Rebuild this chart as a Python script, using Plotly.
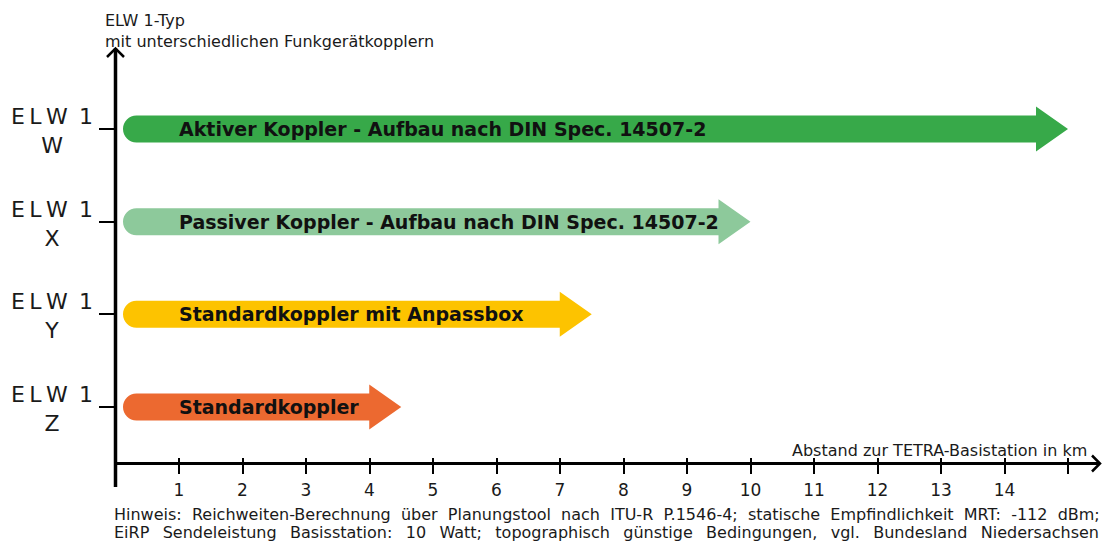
import plotly.graph_objects as go

# ---- data ----
row_codes = ["W", "X", "Y", "Z"]
coupler_labels = [
    "Aktiver Koppler - Aufbau nach DIN Spec. 14507-2",
    "Passiver Koppler - Aufbau nach DIN Spec. 14507-2",
    "Standardkoppler mit Anpassbox",
    "Standardkoppler",
]
range_km = [15, 10, 7.5, 4.5]
colors = ["#37A949", "#8DC99B", "#FDC300", "#EC6930"]
x_ticks = list(range(1, 16))
x_ticktext = [str(v) for v in range(1, 15)] + [""]

FONT = "DejaVu Sans, Liberation Sans, Arial"
TXT = "#1a1a1a"

W, H = 1105, 543
PL, PR, PT, PB = 118, 1100, 60, 457  # plot area in px
X0_PX, X_UNIT = 115.5, 63.5
Y_TOP_ROW_PX, Y_UNIT = 129, 92.67
n = len(row_codes)
rows = [n - 1 - i for i in range(n)]  # W on top

xr = [(PL - X0_PX) / X_UNIT, (PR - X0_PX) / X_UNIT]
yr = [(n - 1) - (PB - Y_TOP_ROW_PX) / Y_UNIT, (n - 1) + (Y_TOP_ROW_PX - PT) / Y_UNIT]


def px_x(p):
    return (p - PL) / (PR - PL)


def px_y(p):
    return (PB - p) / (PB - PT)


fig = go.Figure()
fig.add_trace(go.Scatter(x=[None], y=[None], showlegend=False))

shapes = []
annotations = []

# arrows
bar_h = 13.5 / Y_UNIT
head_h = 22.5 / Y_UNIT
head_len = 32 / X_UNIT
start_x = (123 - X0_PX) / X_UNIT
r = 13.5 / X_UNIT
k = 0.5523
for yc, end, col, lab in zip(rows, range_km, colors, coupler_labels):
    xb = end - head_len
    xs = start_x
    path = (
        f"M {xs + r},{yc + bar_h} L {xb},{yc + bar_h} L {xb},{yc + head_h} "
        f"L {end},{yc} L {xb},{yc - head_h} L {xb},{yc - bar_h} L {xs + r},{yc - bar_h} "
        f"C {xs + r - k * r},{yc - bar_h} {xs},{yc - k * bar_h} {xs},{yc} "
        f"C {xs},{yc + k * bar_h} {xs + r - k * r},{yc + bar_h} {xs + r},{yc + bar_h} Z"
    )
    shapes.append(dict(type="path", path=path, xref="x", yref="y",
                       fillcolor=col, line=dict(width=0), layer="below"))
    annotations.append(dict(x=1, y=yc, xref="x", yref="y", text=lab, showarrow=False,
                            xanchor="left", yanchor="middle", xshift=-2,
                            font=dict(family=FONT, size=19, color="#111111", weight="bold")))

# row labels
for yc, code in zip(rows, row_codes):
    annotations.append(dict(x=px_x(52), y=yc, xref="paper", yref="y",
                            text=f"E\u2009L\u2009W\u00a0\u20091<br>{code}", showarrow=False,
                            xanchor="center", yanchor="middle", align="center", yshift=-2,
                            font=dict(family=FONT, size=22, color=TXT)))

# axis lines
shapes.append(dict(type="line", xref="paper", yref="paper", x0=px_x(115.5), x1=px_x(115.5),
                   y0=px_y(487), y1=px_y(48.5), line=dict(color="black", width=3.5)))
shapes.append(dict(type="line", xref="paper", yref="paper", x0=px_x(115.5), x1=px_x(1100),
                   y0=px_y(463.5), y1=px_y(463.5), line=dict(color="black", width=3.2)))
# arrow chevrons
shapes.append(dict(type="path", xref="paper", yref="paper",
                   path=f"M {px_x(107)},{px_y(57)} L {px_x(115.5)},{px_y(48.5)} L {px_x(124)},{px_y(57)}",
                   line=dict(color="black", width=2.5)))
shapes.append(dict(type="path", xref="paper", yref="paper",
                   path=f"M {px_x(1092)},{px_y(455.5)} L {px_x(1100)},{px_y(463.5)} L {px_x(1092)},{px_y(471.5)}",
                   line=dict(color="black", width=2.5)))

# titles
annotations.append(dict(x=px_x(103), y=px_y(9), xref="paper", yref="paper",
                        text="ELW 1-Typ<br>mit unterschiedlichen Funkgerätkopplern",
                        showarrow=False, xanchor="left", yanchor="top", align="left",
                        font=dict(family=FONT, size=16, color=TXT)))
annotations.append(dict(x=px_x(1089), y=px_y(450), xref="paper", yref="paper",
                        text="Abstand zur TETRA-Basistation in km",
                        showarrow=False, xanchor="right", yanchor="middle",
                        font=dict(family=FONT, size=16, color=TXT)))

note1_words = ["Hinweis:", "Reichweiten-Berechnung", "über", "Planungstool", "nach", "ITU-R",
               "P.1546-4;", "statische", "Empfindlichkeit", "MRT:", "-112", "dBm;"]
note2_words = ["EiRP", "Sendeleistung", "Basisstation:", "10", "Watt;", "topographisch", "günstige",
               "Bedingungen,", "vgl.", "Bundesland", "Niedersachsen"]
note1 = " \u00a0".join(note1_words)
note2 = "\u00a0\u00a0\u2009".join(note2_words)
annotations.append(dict(x=px_x(112), y=px_y(514), xref="paper", yref="paper", text=note1,
                        showarrow=False, xanchor="left", yanchor="middle",
                        font=dict(family=FONT, size=16, color=TXT)))
annotations.append(dict(x=px_x(112), y=px_y(532), xref="paper", yref="paper", text=note2,
                        showarrow=False, xanchor="left", yanchor="middle",
                        font=dict(family=FONT, size=16, color=TXT)))

fig.update_layout(
    width=W, height=H,
    margin=dict(l=PL, r=W - PR, t=PT, b=H - PB, pad=0),
    plot_bgcolor="white", paper_bgcolor="white",
    showlegend=False,
    shapes=shapes, annotations=annotations,
    xaxis=dict(range=xr, tickvals=x_ticks, ticktext=x_ticktext, ticks="outside", ticklen=16,
               tickwidth=2, tickcolor="black", showgrid=False, zeroline=False, showline=False,
               tickfont=dict(family=FONT, size=17, color=TXT), ticklabelstandoff=2),
    yaxis=dict(range=yr, tickvals=rows, ticktext=["" for _ in rows], ticks="outside", ticklen=18,
               tickwidth=2, tickcolor="black", showgrid=False, zeroline=False, showline=False),
)

fig.write_html("out.html", config={"displayModeBar": False},
               post_script="document.body.style.margin='0';document.body.style.overflow='hidden';")
